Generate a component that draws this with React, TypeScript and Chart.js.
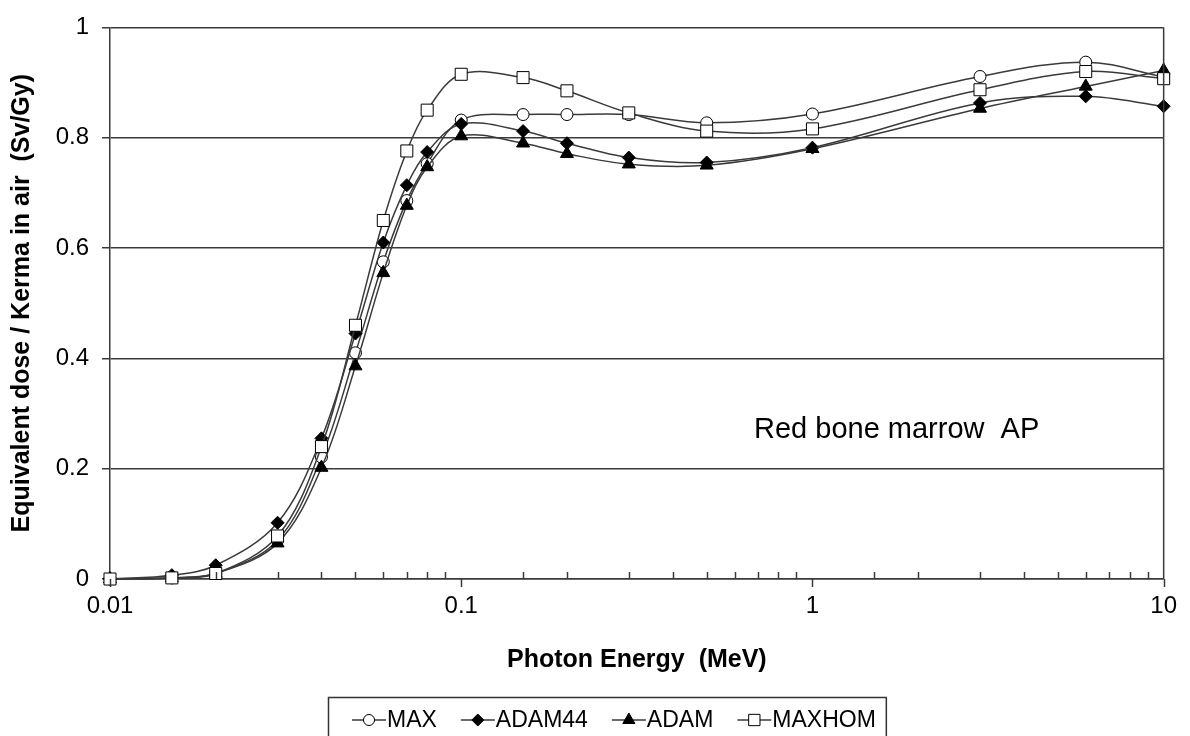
import { useEffect, useRef } from 'react';
import { Chart, registerables } from 'chart.js';
import { drawPoint } from 'chart.js/helpers';

Chart.register(...registerables);

// ---------- data ----------
const energies = [0.01, 0.015, 0.02, 0.03, 0.04, 0.05, 0.06, 0.07, 0.08, 0.1, 0.15, 0.2, 0.3, 0.5, 1, 3, 6, 10];
const maxValues = [0, 0.002, 0.01, 0.07, 0.221, 0.41, 0.575, 0.686, 0.753, 0.832, 0.842, 0.842, 0.842, 0.827, 0.843, 0.911, 0.937, 0.91];
const adam44Values = [0, 0.007, 0.025, 0.102, 0.255, 0.445, 0.61, 0.714, 0.774, 0.825, 0.812, 0.79, 0.764, 0.755, 0.782, 0.863, 0.875, 0.857];
const adamValues = [0, 0.002, 0.01, 0.065, 0.202, 0.386, 0.555, 0.677, 0.747, 0.803, 0.79, 0.771, 0.752, 0.75, 0.78, 0.853, 0.893, 0.922];
const maxhomValues = [0, 0.002, 0.01, 0.078, 0.24, 0.46, 0.65, 0.776, 0.85, 0.915, 0.909, 0.885, 0.845, 0.812, 0.816, 0.887, 0.92, 0.907];

const seriesNames = ['MAX', 'ADAM44', 'ADAM', 'MAXHOM'];
const yTickValues = [0, 0.2, 0.4, 0.6, 0.8, 1];
const yTickLabels = ['0', '0.2', '0.4', '0.6', '0.8', '1'];
const xMajorValues = [0.01, 0.1, 1, 10];
const xTickLabels = ['0.01', '0.1', '1', '10'];
const xTitle = 'Photon Energy  (MeV)';
const yTitle = 'Equivalent dose / Kerma in air  (Sv/Gy)';
const annotationText = 'Red bone marrow  AP';

const FONT = '"Liberation Sans", Arial, sans-serif';
const LINE = '#3a3a3a';

type Marker = { style: string; radius: number; fill: string };
const markers: Marker[] = [
  { style: 'circle', radius: 6, fill: '#ffffff' },
  { style: 'rectRot', radius: 6.5, fill: '#000000' },
  { style: 'triangle', radius: 7.5, fill: '#000000' },
  { style: 'rect', radius: 8.5, fill: '#ffffff' },
];

const isMajor = (v: number) => {
  const l = Math.log10(v);
  return Math.abs(l - Math.round(l)) < 1e-9;
};

const xTicksPlugin = {
  id: 'xTicksPlugin',
  afterDraw(chart: any) {
    const { ctx, chartArea, scales } = chart;
    const x = scales.x;
    ctx.save();
    ctx.strokeStyle = LINE;
    ctx.lineWidth = 1.5;
    for (const t of x.ticks) {
      const px = Math.round(x.getPixelForValue(t.value)) + 0.5;
      ctx.beginPath();
      if (isMajor(t.value)) {
        ctx.moveTo(px, chartArea.bottom);
        ctx.lineTo(px, chartArea.bottom + 8);
      } else {
        ctx.moveTo(px, chartArea.bottom);
        ctx.lineTo(px, chartArea.bottom - 7);
      }
      ctx.stroke();
    }
    // right edge of plot
    ctx.beginPath();
    ctx.moveTo(chartArea.right, chartArea.top);
    ctx.lineTo(chartArea.right, chartArea.bottom);
    ctx.stroke();
    // annotation
    ctx.fillStyle = '#000';
    ctx.font = `29px ${FONT}`;
    ctx.textBaseline = 'middle';
    ctx.textAlign = 'left';
    ctx.fillText(annotationText, 754, 430);
    ctx.restore();
  },
};

const legendPlugin = {
  id: 'customLegend',
  afterDraw(chart: any) {
    const { ctx } = chart;
    ctx.save();
    ctx.font = `23px ${FONT}`;
    ctx.textBaseline = 'middle';
    ctx.textAlign = 'left';
    const boxLeft = 328;
    const boxTop = 697;
    const cy = 720;
    let xPos = boxLeft + 24;
    chart.data.datasets.forEach((ds: any, i: number) => {
      const lineLen = 34;
      ctx.strokeStyle = LINE;
      ctx.lineWidth = 1.5;
      ctx.beginPath();
      ctx.moveTo(xPos, cy);
      ctx.lineTo(xPos + lineLen, cy);
      ctx.stroke();
      const m = markers[i];
      ctx.fillStyle = m.fill;
      ctx.strokeStyle = '#000';
      ctx.lineWidth = 1;
      drawPoint(ctx, { pointStyle: m.style as any, radius: m.radius - 0.5, borderWidth: 1, rotation: 0 } as any, xPos + lineLen / 2, cy);
      ctx.fillStyle = '#000';
      ctx.fillText(ds.label, xPos + lineLen + 1, cy + 1);
      const w = ctx.measureText(ds.label).width;
      xPos = xPos + lineLen + 1 + w + 24;
    });
    ctx.strokeStyle = '#333';
    ctx.lineWidth = 1.5;
    ctx.strokeRect(boxLeft + 0.5, boxTop + 0.5, xPos - boxLeft - 14, 60);
    ctx.restore();
  },
};

export default function App() {
  const ref = useRef<HTMLCanvasElement>(null);

  useEffect(() => {
    document.body.style.margin = '0';
    const valuesList = [maxValues, adam44Values, adamValues, maxhomValues];
    const datasets = seriesNames.map((name, i) => ({
      label: name,
      data: energies.map((e, j) => ({ x: e, y: valuesList[i][j] })),
      borderColor: LINE,
      borderWidth: 1.5,
      backgroundColor: markers[i].fill,
      pointStyle: markers[i].style,
      pointRadius: markers[i].radius,
      pointBackgroundColor: markers[i].fill,
      pointBorderColor: '#000',
      pointBorderWidth: 1,
      tension: 0.35,
      fill: false,
      clip: false,
      order: seriesNames.length - 1 - i,
    }));

    const chart = new Chart(ref.current as HTMLCanvasElement, {
      type: 'line',
      data: { datasets },
      options: {
        animation: false,
        responsive: false,
        devicePixelRatio: 1,
        layout: { padding: { left: 0, right: 22, top: 25, bottom: 57 } },
        plugins: { legend: { display: false }, tooltip: { enabled: false } },
        scales: {
          x: {
            type: 'logarithmic',
            min: 0.01,
            max: 10,
            afterFit: (s: any) => { s.height = 100; },
            grid: { display: false, drawTicks: false },
            border: { display: true, color: LINE, width: 1.5 },
            ticks: {
              autoSkip: false,
              maxRotation: 0,
              padding: 13,
              color: '#000',
              font: { family: FONT, size: 24 },
              callback: (v: any) => {
                const idx = xMajorValues.findIndex((m) => Math.abs(m - Number(v)) < 1e-9);
                return idx >= 0 ? xTickLabels[idx] : '';
              },
            },
            title: {
              display: true,
              text: xTitle,
              color: '#000',
              font: { family: FONT, size: 25, weight: 'bold' },
              padding: { top: 0, bottom: 4 },
            },
          },
          y: {
            type: 'linear',
            min: 0,
            max: 1,
            afterFit: (s: any) => { s.width = 110; },
            afterBuildTicks: (s: any) => { s.ticks = yTickValues.map((v) => ({ value: v })); },
            grid: { color: LINE, lineWidth: 1.5, tickLength: 8 },
            border: { display: true, color: LINE, width: 1.5 },
            ticks: {
              padding: 13,
              color: '#000',
              font: { family: FONT, size: 24 },
              callback: (v: any) => {
                const idx = yTickValues.findIndex((m) => Math.abs(m - Number(v)) < 1e-9);
                return idx >= 0 ? yTickLabels[idx] : '';
              },
            },
            title: {
              display: true,
              text: yTitle,
              color: '#000',
              font: { family: FONT, size: 25, weight: 'bold' },
              padding: { top: 7, bottom: 0 },
            },
          },
        },
      },
      plugins: [xTicksPlugin, legendPlugin],
    } as any);
    return () => chart.destroy();
  }, []);

  return (
    <div style={{ width: 1190, height: 736, position: 'relative' }}>
      <canvas ref={ref} width={1190} height={736} style={{ display: 'block' }} />
    </div>
  );
}
